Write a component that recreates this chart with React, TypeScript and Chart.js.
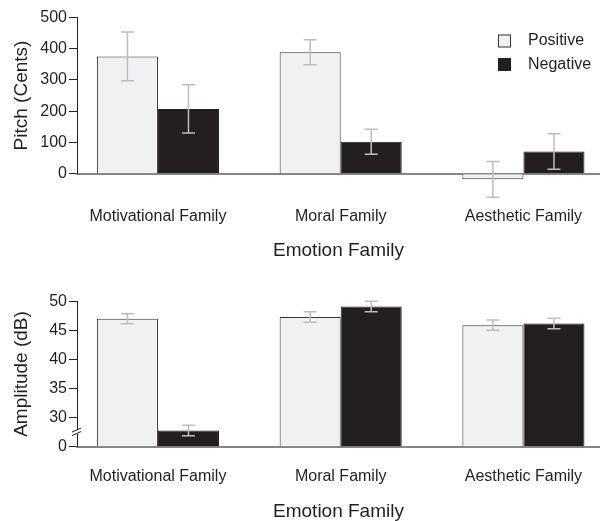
import React, { useEffect, useRef } from "react";
import { Chart, registerables } from "chart.js";

Chart.register(...registerables);

const CATEGORIES = ["Motivational Family", "Moral Family", "Aesthetic Family"];
const SERIES = ["Positive", "Negative"];
const X_TITLE = "Emotion Family";

const PITCH_POSITIVE = [375, 388, -18];
const PITCH_NEGATIVE = [207, 102, 71];
const PITCH_POSITIVE_ERR = [78, 40, 57];
const PITCH_NEGATIVE_ERR = [77, 40, 57];
const PITCH_TICKS = [0, 100, 200, 300, 400, 500];
const PITCH_TITLE = "Pitch (Cents)";

const AMP_POSITIVE = [47.0, 47.3, 45.9];
const AMP_NEGATIVE = [27.8, 49.1, 46.2];
const AMP_POSITIVE_ERR = [0.85, 0.9, 0.88];
const AMP_NEGATIVE_ERR = [0.9, 0.9, 0.9];
const AMP_TICKS = [25, 30, 35, 40, 45, 50];
const AMP_TICK_LABELS = ["0", "30", "35", "40", "45", "50"];
const AMP_BREAK_VALUE = 27.6;
const AMP_TITLE = "Amplitude (dB)";

const FONT = "'Liberation Sans', Arial, Helvetica, sans-serif";
const TEXT = "#231f20";
const POS_FILL = "#f0f1f3";
const POS_EDGE = "#333333";
const NEG_FILL = "#231f20";
const ERR_COLOR = "#bdbdbd";

const errorBarPlugin = {
  id: "errorBars",
  afterDatasetsDraw(chart: any) {
    const ctx = chart.ctx;
    const ys = chart.scales.y;
    chart.data.datasets.forEach((ds: any, di: number) => {
      const meta = chart.getDatasetMeta(di);
      const errs = ds.errors || [];
      meta.data.forEach((el: any, i: number) => {
        const v = ds.data[i].y;
        const e = errs[i];
        if (e == null) return;
        const x = el.x;
        const top = ys.getPixelForValue(v + e);
        const bot = ys.getPixelForValue(v - e);
        ctx.save();
        ctx.strokeStyle = ERR_COLOR;
        ctx.lineWidth = 1.5;
        ctx.beginPath();
        ctx.moveTo(x, top);
        ctx.lineTo(x, bot);
        ctx.moveTo(x - 6.5, top);
        ctx.lineTo(x + 6.5, top);
        ctx.moveTo(x - 6.5, bot);
        ctx.lineTo(x + 6.5, bot);
        ctx.stroke();
        ctx.restore();
      });
    });
  },
};

const legendPlugin = {
  id: "cornerLegend",
  afterDraw(chart: any) {
    if (!chart.options.plugins.cornerLegend?.show) return;
    const ctx = chart.ctx;
    const ca = chart.chartArea;
    chart.data.datasets.forEach((ds: any, i: number) => {
      const cy = ca.top + 23.7 + i * 23.5;
      const bx = ca.right - 102;
      ctx.save();
      ctx.fillStyle = ds.backgroundColor;
      ctx.fillRect(bx, cy - 6.5, 13, 13);
      ctx.strokeStyle = ds.borderColor;
      ctx.lineWidth = 1;
      ctx.strokeRect(bx + 0.5, cy - 6, 12, 12);
      ctx.fillStyle = TEXT;
      ctx.font = `16px ${FONT}`;
      ctx.textBaseline = "middle";
      ctx.textAlign = "left";
      ctx.fillText(ds.label, ca.right - 72, cy);
      ctx.restore();
    });
  },
};

const breakPlugin = {
  id: "axisBreak",
  afterDraw(chart: any) {
    const bv = chart.options.plugins.axisBreak?.value;
    if (bv == null) return;
    const ctx = chart.ctx;
    const y = chart.scales.y.getPixelForValue(bv);
    const x = chart.chartArea.left;
    ctx.save();
    ctx.fillStyle = "#ffffff";
    ctx.fillRect(x - 2, y - 2, 4, 4);
    ctx.strokeStyle = "#222";
    ctx.lineWidth = 1;
    ctx.beginPath();
    ctx.moveTo(x - 5, y + 0.5);
    ctx.lineTo(x + 4, y - 3.5);
    ctx.moveTo(x - 5, y + 4);
    ctx.lineTo(x + 4, y);
    ctx.stroke();
    ctx.restore();
  },
};

function makeDatasets(pos: number[], neg: number[], posErr: number[], negErr: number[], base: number) {
  return [
    {
      label: SERIES[0],
      data: pos.map((v, i) => ({ x: i, y: v })),
      errors: posErr,
      backgroundColor: POS_FILL,
      borderColor: POS_EDGE,
      borderWidth: 1,
      base,
      clip: false,
    },
    {
      label: SERIES[1],
      data: neg.map((v, i) => ({ x: i, y: v })),
      errors: negErr,
      backgroundColor: NEG_FILL,
      borderColor: NEG_FILL,
      borderWidth: 1,
      base,
      clip: false,
    },
  ] as any[];
}

function makeConfig(opts: {
  datasets: any[];
  yMin: number;
  yMax: number;
  yTicks: number[];
  yLabels: string[];
  yTitle: string;
  padTop: number;
  xHeight: number;
  labelPad: number;
  titlePadBottom: number;
  legend: boolean;
  breakValue: number | null;
}): any {
  return {
    type: "bar",
    data: { datasets: opts.datasets },
    options: {
      responsive: false,
      animation: false,
      events: [],
      layout: { padding: { top: opts.padTop, left: 0, right: 0, bottom: 0 } },
      datasets: { bar: { categoryPercentage: 0.668, barPercentage: 1 } },
      plugins: {
        legend: { display: false },
        tooltip: { enabled: false },
        cornerLegend: { show: opts.legend },
        axisBreak: { value: opts.breakValue },
      },
      scales: {
        x: {
          type: "linear",
          min: -0.443,
          max: 2.419,
          offset: false,
          afterBuildTicks: (s: any) => {
            s.ticks = CATEGORIES.map((_, i) => ({ value: i }));
          },
          afterFit: (s: any) => {
            s.height = opts.xHeight;
            s.paddingLeft = 0;
            s.paddingRight = 0;
          },
          grid: { display: false, drawTicks: false, offset: false },
          border: { display: true, color: "#858585", width: 2 },
          ticks: {
            callback: (_v: any, i: number) => CATEGORIES[i],
            padding: opts.labelPad,
            autoSkip: false,
            maxRotation: 0,
            color: TEXT,
            font: { size: 16, family: FONT },
          },
          title: {
            display: true,
            text: X_TITLE,
            color: TEXT,
            font: { size: 19, family: FONT, lineHeight: 1.0 },
            padding: { top: 0, bottom: opts.titlePadBottom },
          },
        },
        y: {
          min: opts.yMin,
          max: opts.yMax,
          afterBuildTicks: (s: any) => {
            s.ticks = opts.yTicks.map((v) => ({ value: v }));
          },
          afterFit: (s: any) => {
            s.width = 77;
          },
          grid: {
            display: true,
            drawOnChartArea: false,
            drawTicks: true,
            tickLength: 8,
            color: "#222",
            lineWidth: 1,
          },
          border: { display: true, color: "#222", width: 1 },
          ticks: {
            callback: (_v: any, i: number) => opts.yLabels[i],
            padding: 2,
            color: TEXT,
            font: { size: 16, family: FONT },
          },
          title: {
            display: true,
            text: opts.yTitle,
            color: TEXT,
            font: { size: 19, family: FONT, lineHeight: 1.2 },
            padding: { top: 10, bottom: 0 },
          },
        },
      },
    },
    plugins: [errorBarPlugin, legendPlugin, breakPlugin],
  };
}

export default function App() {
  const topRef = useRef<HTMLCanvasElement>(null);
  const botRef = useRef<HTMLCanvasElement>(null);

  useEffect(() => {
    Chart.defaults.font.family = FONT;
    const top = new Chart(
      topRef.current as HTMLCanvasElement,
      makeConfig({
        datasets: makeDatasets(PITCH_POSITIVE, PITCH_NEGATIVE, PITCH_POSITIVE_ERR, PITCH_NEGATIVE_ERR, 0),
        yMin: 0,
        yMax: 500,
        yTicks: PITCH_TICKS,
        yLabels: PITCH_TICKS.map(String),
        yTitle: PITCH_TITLE,
        padTop: 17.3,
        xHeight: 91.3,
        labelPad: 33.5,
        titlePadBottom: 4.5,
        legend: true,
        breakValue: null,
      })
    );
    const bot = new Chart(
      botRef.current as HTMLCanvasElement,
      makeConfig({
        datasets: makeDatasets(AMP_POSITIVE, AMP_NEGATIVE, AMP_POSITIVE_ERR, AMP_NEGATIVE_ERR, AMP_TICKS[0]),
        yMin: 25,
        yMax: 50,
        yTicks: AMP_TICKS,
        yLabels: AMP_TICK_LABELS,
        yTitle: AMP_TITLE,
        padTop: 36.3,
        xHeight: 74.3,
        labelPad: 20.6,
        titlePadBottom: 0,
        legend: false,
        breakValue: AMP_BREAK_VALUE,
      })
    );
    return () => {
      top.destroy();
      bot.destroy();
    };
  }, []);

  return (
    <div style={{ position: "fixed", left: 0, top: 0, width: 600, height: 521, background: "#fff" }}>
      <canvas
        ref={topRef}
        width={600}
        height={265}
        style={{ position: "absolute", left: 0, top: 0, width: 600, height: 265 }}
      />
      <canvas
        ref={botRef}
        width={600}
        height={256}
        style={{ position: "absolute", left: 0, top: 265, width: 600, height: 256 }}
      />
    </div>
  );
}
